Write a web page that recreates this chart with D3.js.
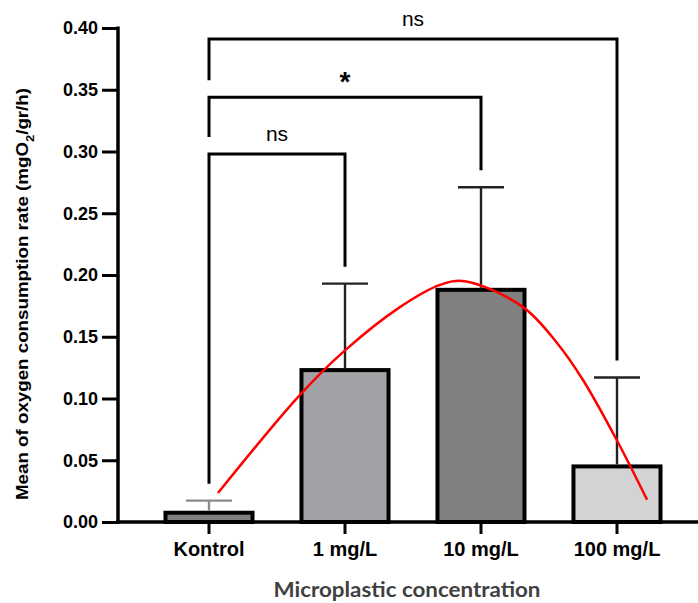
<!DOCTYPE html>
<html>
<head>
<meta charset="utf-8">
<script src="https://cdn.jsdelivr.net/npm/d3@7"></script>
<style>
  body { margin: 0; background: #fff; }
  svg { display: block; }
</style>
</head>
<body>
<div id="chart"></div>
<script>
// Data
const categories = ["Kontrol", "1 mg/L", "10 mg/L", "100 mg/L"];
const means = [0.0075, 0.123, 0.188, 0.045];
const errors = [0.0098, 0.070, 0.083, 0.072];
const barColors = ["#808080", "#a2a1a6", "#808080", "#d3d3d3"];
const errorColors = ["#8c8c8c", "#222222", "#222222", "#222222"];
const yTicks = [0, 0.05, 0.10, 0.15, 0.20, 0.25, 0.30, 0.35, 0.40];

// red trend curve: position along the category axis (0 = Kontrol) and value
const trendPos = [0.066, 0.669, 1.0, 1.404, 1.699, 1.882, 2.309, 2.559, 2.75, 3.0, 3.221];
const trendValues = [0.0235, 0.103, 0.139, 0.174, 0.192, 0.195, 0.174, 0.145, 0.115, 0.066, 0.018];

// significance brackets
const compFrom = ["Kontrol", "Kontrol", "Kontrol"];
const compTo = ["1 mg/L", "10 mg/L", "100 mg/L"];
const compLevel = [0.298, 0.344, 0.391];
const compLabel = ["ns", "*", "ns"];

const width = 698, height = 603;
const svg = d3.select("#chart").append("svg")
    .attr("width", width)
    .attr("height", height);

const x = d3.scaleBand()
    .domain(categories)
    .range([141, 685])
    .paddingInner(0.36)
    .paddingOuter(0.18);

const y = d3.scaleLinear()
    .domain([0, 0.4])
    .range([522, 28]);

const center = c => x(c) + x.bandwidth() / 2;
const xPos = d3.scaleLinear()
    .domain([0, categories.length - 1])
    .range([center(categories[0]), center(categories[categories.length - 1])]);

// bars
svg.selectAll(".bar")
    .data(categories)
    .enter()
    .append("rect")
    .attr("class", "bar")
    .attr("x", d => x(d))
    .attr("y", (d, i) => y(means[i]))
    .attr("width", x.bandwidth())
    .attr("height", (d, i) => y(0) - y(means[i]))
    .attr("fill", (d, i) => barColors[i])
    .attr("stroke", "#000")
    .attr("stroke-width", 4);

// error bars (upper only)
const capW = 46;
categories.forEach((c, i) => {
    const cx = center(c);
    const top = y(means[i] + errors[i]);
    svg.append("line")
        .attr("x1", cx).attr("x2", cx)
        .attr("y1", y(means[i]) - 2).attr("y2", top)
        .attr("stroke", errorColors[i])
        .attr("stroke-width", 2.4);
    svg.append("line")
        .attr("x1", cx - capW / 2).attr("x2", cx + capW / 2)
        .attr("y1", top).attr("y2", top)
        .attr("stroke", errorColors[i])
        .attr("stroke-width", 2.4);
});

// trend curve
const trend = d3.line()
    .x(d => xPos(d[0]))
    .y(d => y(d[1]))
    .curve(d3.curveCatmullRom.alpha(0.5));

svg.append("path")
    .datum(trendPos.map((p, i) => [p, trendValues[i]]))
    .attr("d", trend)
    .attr("fill", "none")
    .attr("stroke", "#ff0000")
    .attr("stroke-width", 2.5);

// y axis
const yAxis = svg.append("g")
    .attr("transform", "translate(118,0)")
    .call(d3.axisLeft(y).tickValues(yTicks).tickFormat(d3.format(".2f")).tickSize(16).tickSizeOuter(0).tickPadding(4));
yAxis.select(".domain").remove();
yAxis.selectAll(".tick line").attr("stroke", "#000").attr("stroke-width", 3);
yAxis.selectAll(".tick text")
    .attr("fill", "#000")
    .style("font-family", "'Liberation Sans', Arial, sans-serif")
    .style("font-weight", "bold")
    .style("font-size", "18px");
svg.append("line")
    .attr("x1", 118).attr("x2", 118)
    .attr("y1", y(0.4) - 1.5).attr("y2", y(0) + 1.75)
    .attr("stroke", "#000").attr("stroke-width", 3.5);

// x axis
const xAxis = svg.append("g")
    .attr("transform", `translate(0,${y(0)})`)
    .call(d3.axisBottom(x).tickSize(12).tickSizeOuter(0).tickPadding(8));
xAxis.select(".domain").remove();
xAxis.selectAll(".tick line").attr("stroke", "#000").attr("stroke-width", 3);
xAxis.selectAll(".tick text")
    .attr("fill", "#000")
    .style("font-family", "'Liberation Sans', Arial, sans-serif")
    .style("font-weight", "bold")
    .style("font-size", "20px");
svg.append("line")
    .attr("x1", 116).attr("x2", width)
    .attr("y1", y(0)).attr("y2", y(0))
    .attr("stroke", "#000").attr("stroke-width", 3.5);

// significance brackets
const gap = 17;
compFrom.forEach((from, i) => {
    const x1 = center(from), x2 = center(compTo[i]);
    const ly = y(compLevel[i]);
    const legEnd = c => {
        const ci = categories.indexOf(c);
        let top = means[ci] + errors[ci];
        for (let j = 0; j < i; j++) {
            const a = center(compFrom[j]), b = center(compTo[j]);
            if (center(c) >= a && center(c) <= b) top = Math.max(top, compLevel[j]);
        }
        return y(top) - gap;
    };
    svg.append("path")
        .attr("d", `M${x1},${legEnd(from)}V${ly}H${x2}V${legEnd(compTo[i])}`)
        .attr("fill", "none")
        .attr("stroke", "#000")
        .attr("stroke-width", 3);
    const star = compLabel[i] === "*";
    svg.append("text")
        .attr("x", (x1 + x2) / 2)
        .attr("y", star ? ly - 6 : ly - 13)
        .attr("text-anchor", "middle")
        .style("font-family", "'Liberation Sans', Arial, sans-serif")
        .style("font-weight", star ? "bold" : "normal")
        .style("font-size", star ? "28px" : "21px")
        .text(compLabel[i]);
});

// axis titles
const yTitle = svg.append("text")
    .attr("transform", "translate(28,294) rotate(-90)")
    .attr("text-anchor", "middle")
    .attr("textLength", 412)
    .attr("lengthAdjust", "spacingAndGlyphs")
    .style("font-family", "'Liberation Sans', Arial, sans-serif")
    .style("font-weight", "bold")
    .style("font-size", "16px")
    .attr("fill", "#000");
yTitle.append("tspan").text("Mean of oxygen consumption  rate (mgO");
yTitle.append("tspan").attr("baseline-shift", "sub").style("font-size", "11px").text("2");
yTitle.append("tspan").text("/gr/h)");

svg.append("text")
    .attr("x", 407)
    .attr("y", 597)
    .attr("text-anchor", "middle")
    .attr("textLength", 267)
    .attr("lengthAdjust", "spacingAndGlyphs")
    .style("font-family", "Lato, 'Open Sans', sans-serif")
    .style("font-weight", "bold")
    .style("font-size", "20px")
    .attr("fill", "#404040")
    .text("Microplastic concentration");
</script>
</body>
</html>
